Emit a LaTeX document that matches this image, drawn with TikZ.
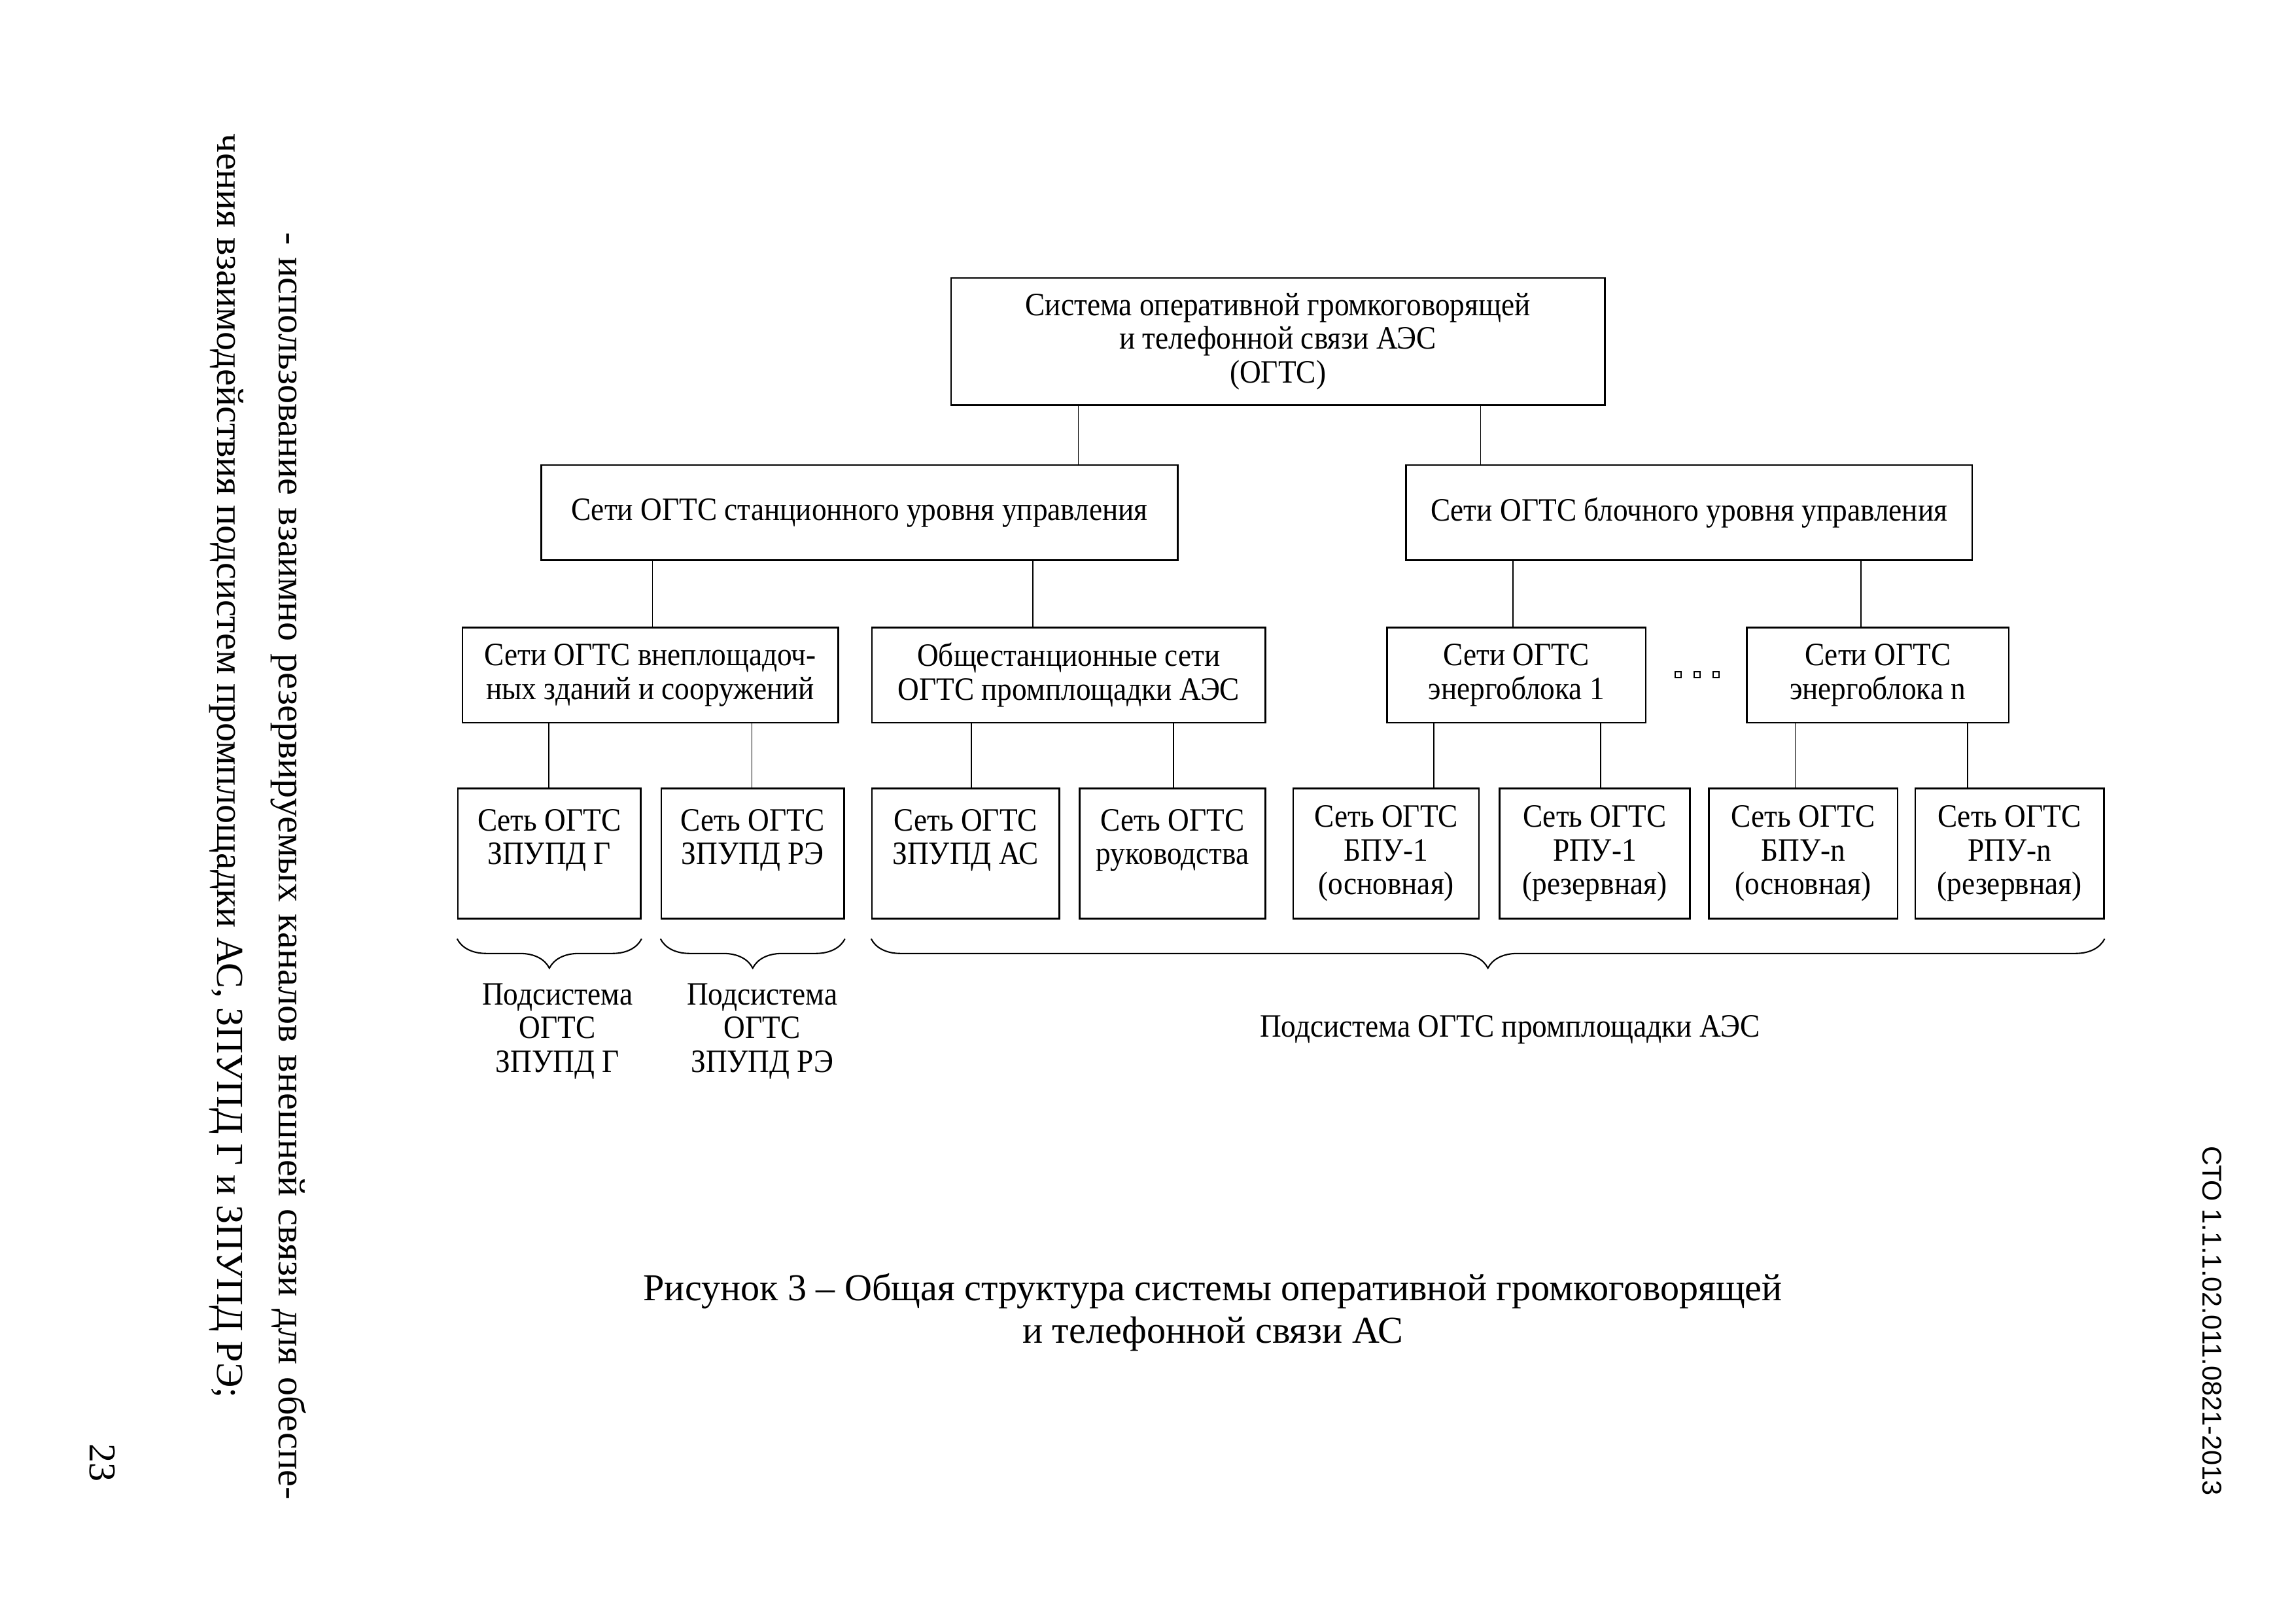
\documentclass[tikz,border=0pt]{standalone}
\usepackage{fontspec}
\setmainfont{Liberation Serif}
\newfontfamily\figfont{Liberation Serif}[FakeStretch=0.91]
\newfontfamily\codefont{Liberation Sans}
\usetikzlibrary{positioning,decorations.pathreplacing}

\begin{document}
\begin{tikzpicture}[x=0.018937cm, y=-0.018937cm,
    box/.style={draw, line width=0.6pt, inner sep=0pt, align=center,
        font=\figfont\fontsize{12}{12.4}\selectfont},
    size/.style 2 args={minimum width=#1*0.018937cm, minimum height=#2*0.018937cm},
    link/.style={line width=0.4pt},
    brc/.style={decorate, line width=0.5pt,
        decoration={brace, mirror, amplitude=0.38cm}},
    lbl/.style={align=center, font=\figfont\fontsize{12}{12.4}\selectfont}]

    \useasboundingbox (0,0) rectangle (1568,1110);

    % top level
    \node[box, size={447}{87}] (sys) at (873.5,233.5)
        {Система оперативной громкоговорящей\\и телефонной связи АЭС\\(ОГТС)};

    % control levels
    \node[box, size={435}{65}] (stLvl) at (587.5,350.5)
        {Сети ОГТС станционного уровня управления};
    \node[box, size={387}{65}] (blLvl) at (1154.5,350.5)
        {Сети ОГТС блочного уровня управления};

    % networks
    \node[box, size={257}{65}] (netOut) at (444.5,461.5)
        {Сети ОГТС внеплощадоч-\\ных зданий и сооружений};
    \node[box, size={269}{65}] (netCommon) at (730.5,461.5)
        {Общестанционные сети\\ОГТС промплощадки АЭС};
    \node[box, size={177}{65}] (unitA) at (1036.5,461.5)
        {Сети ОГТС\\энергоблока 1};
    \node[box, size={179}{65}] (unitN) at (1283.5,461.5)
        {Сети ОГТС\\энергоблока n};
    \foreach \x in {1147,1160,1173}
        \draw[line width=0.5pt] (\x-2,459) rectangle ++(4,4);

    % single nets
    \node[box, size={125}{89}] (zpG) at (375.5,583.5) {Сеть ОГТС\\ЗПУПД Г\\~};
    \node[box, size={125}{89}] (zpRE) at (514.5,583.5) {Сеть ОГТС\\ЗПУПД РЭ\\~};
    \node[box, size={128}{89}] (zpAS) at (660,583.5) {Сеть ОГТС\\ЗПУПД АС\\~};
    \node[box, size={127}{89}] (mgmt) at (801.5,583.5) {Сеть ОГТС\\руководства\\~};
    \node[box, size={127}{89}] (bpuA) at (947.5,583.5) {Сеть ОГТС\\БПУ-1\\(основная)};
    \node[box, size={130}{89}] (rpuA) at (1090,583.5) {Сеть ОГТС\\РПУ-1\\(резервная)};
    \node[box, size={129}{89}] (bpuN) at (1232.5,583.5) {Сеть ОГТС\\БПУ-n\\(основная)};
    \node[box, size={129}{89}] (rpuN) at (1373.5,583.5) {Сеть ОГТС\\РПУ-n\\(резервная)};

    % links
    \foreach \x/\a/\b in {737/sys/stLvl, 1012/sys/blLvl,
            446/stLvl/netOut, 706/stLvl/netCommon,
            1034/blLvl/unitA, 1272/blLvl/unitN,
            375/netOut/zpG, 514/netOut/zpRE,
            664/netCommon/zpAS, 802/netCommon/mgmt,
            980/unitA/bpuA, 1094/unitA/rpuA,
            1227/unitN/bpuN, 1345/unitN/rpuN}
        \draw[link] (\a.south -| \x,0) -- (\b.north -| \x,0);

    % braces
    \draw[brc] ([yshift=-0.25cm]zpG.south west) -- ([yshift=-0.25cm]zpG.south east);
    \draw[brc] ([yshift=-0.25cm]zpRE.south west) -- ([yshift=-0.25cm]zpRE.south east);
    \draw[brc] ([yshift=-0.25cm]zpAS.south west) -- ([yshift=-0.25cm]rpuN.south east);

    \node[lbl] (subG) at (381,705) {Подсистема\\ОГТС\\ЗПУПД Г};
    \node[lbl] (subRE) at (521,705) {Подсистема\\ОГТС\\ЗПУПД РЭ};
    \node[lbl] (subSite) at (1032,704) {Подсистема ОГТС промплощадки АЭС};

    % caption
    \node[align=center, font=\fontsize{14}{15.8}\selectfont] (cap) at (829,897)
        {Рисунок 3 -- Общая структура системы оперативной громкоговорящей\\и телефонной связи АС};

    % page text
    \node[rotate=-90, font=\fontsize{14}{16}\selectfont] (txtA) at (197,592)
        {\makebox[16.4cm][s]{- использование взаимно резервируемых каналов внешней связи для обеспе-}};
    \node[rotate=-90, anchor=west, font=\fontsize{14}{16}\selectfont] (txtB) at (155,85)
        {чения взаимодействия подсистем промплощадки АС, ЗПУПД Г и ЗПУПД РЭ;};
    \node[rotate=-90, font=\fontsize{14}{16}\selectfont] (pg) at (70,1000) {23};
    \node[rotate=-90, font=\codefont\fontsize{10}{12}\selectfont] (doc) at (1512,903)
        {СТО 1.1.1.02.011.0821-2013};
\end{tikzpicture}
\end{document}
